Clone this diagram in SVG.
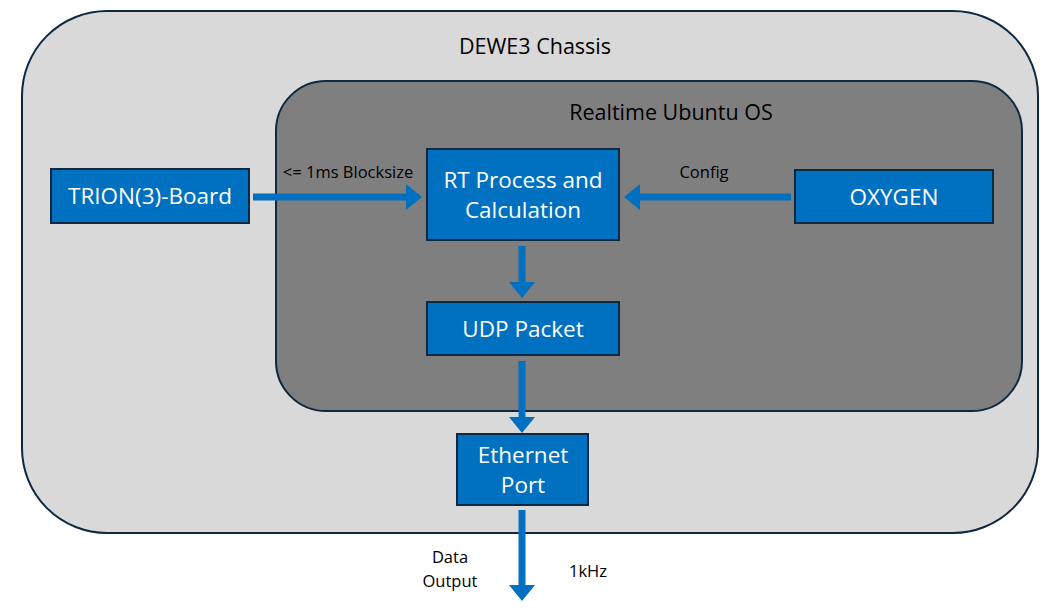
<svg xmlns="http://www.w3.org/2000/svg" width="1061" height="615" viewBox="0 0 1061 615">
<style>
.box{fill:#0070c0;stroke:#0e2841;stroke-width:2}
.lbl{font-family:"Open Sans","Liberation Sans",sans-serif;font-size:22.5px;fill:#ffffff;text-anchor:middle}
.title{font-family:"Open Sans","Liberation Sans",sans-serif;font-size:21.5px;fill:#000;text-anchor:middle}
.small{font-family:"Open Sans","Liberation Sans",sans-serif;font-size:16.5px;fill:#000;text-anchor:middle}
.conn{stroke:#0070c0;stroke-width:7;fill:none}
</style>
<defs>
<marker id="ah" markerUnits="userSpaceOnUse" markerWidth="16" markerHeight="26" refX="0" refY="13" orient="auto" viewBox="0 0 16 26">
<path d="M0,0 L16,13 L0,26 Z" fill="#0070c0"/>
</marker>
</defs>
<rect width="1061" height="615" fill="#ffffff"/>
<g id="chassis">
<rect x="22" y="11" width="1016" height="522" rx="85" ry="85" fill="#d9d9d9" stroke="#0e2841" stroke-width="2"/>
<text class="title" x="535" y="54">DEWE3 Chassis</text>
</g>
<g id="os">
<rect x="276" y="81" width="746" height="330" rx="50" ry="50" fill="#7f7f7f" stroke="#0e2841" stroke-width="2"/>
<text class="title" x="671" y="120">Realtime Ubuntu OS</text>
</g>
<g id="trion">
<rect class="box" x="51" y="169" width="198" height="54"/>
<text class="lbl" x="150" y="204">TRION(3)-Board</text>
</g>
<g id="rt">
<rect class="box" x="427" y="149" width="192" height="91"/>
<text class="lbl" x="523" y="188">RT Process and</text>
<text class="lbl" x="523" y="218">Calculation</text>
</g>
<g id="oxygen">
<rect class="box" x="795" y="170" width="198" height="53"/>
<text class="lbl" x="894" y="205">OXYGEN</text>
</g>
<g id="udp">
<rect class="box" x="427" y="302" width="192" height="53"/>
<text class="lbl" x="523" y="337">UDP Packet</text>
</g>
<g id="ethernet">
<rect class="box" x="457" y="434" width="131" height="71"/>
<text class="lbl" x="523" y="463">Ethernet</text>
<text class="lbl" x="523" y="493">Port</text>
</g>
<g id="connectors">
<line class="conn" x1="253" y1="197" x2="406" y2="197" marker-end="url(#ah)"/>
<line class="conn" x1="791" y1="197" x2="640" y2="197" marker-end="url(#ah)"/>
<line class="conn" x1="522" y1="246" x2="522" y2="282" marker-end="url(#ah)"/>
<line class="conn" x1="522" y1="361" x2="522" y2="417" marker-end="url(#ah)"/>
<line class="conn" x1="522" y1="510" x2="522" y2="585" marker-end="url(#ah)"/>
<text class="small" x="348" y="178">&lt;= 1ms Blocksize</text>
<text class="small" x="704" y="178">Config</text>
<text class="small" x="450" y="563">Data</text>
<text class="small" x="450" y="587">Output</text>
<text class="small" x="588" y="577">1kHz</text>
</g>
</svg>
